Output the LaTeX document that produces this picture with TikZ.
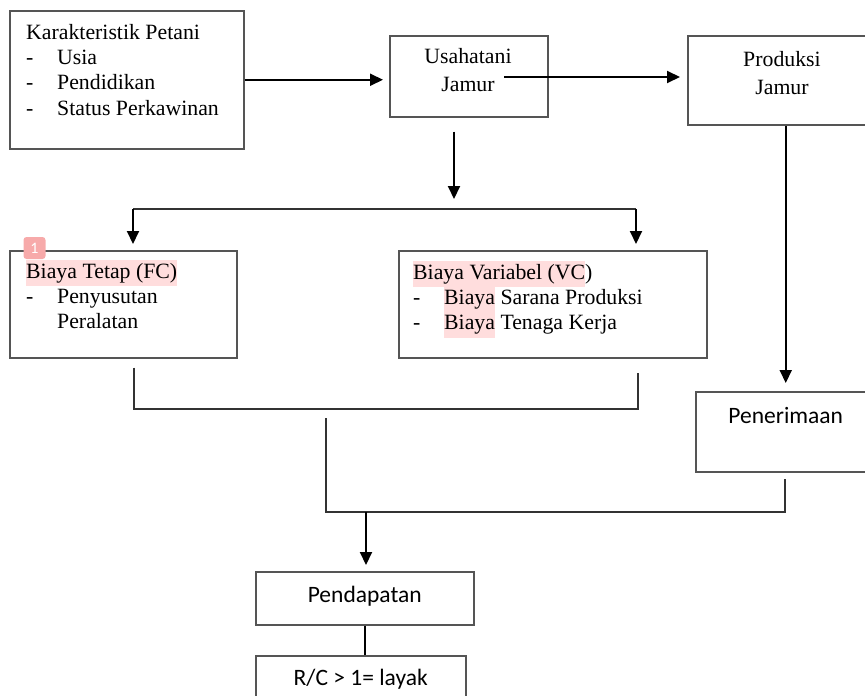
\documentclass[tikz,border=0pt]{standalone}
\usepackage{fontspec}
\setmainfont{Liberation Serif}
\newfontfamily\calfont{Carlito}
\usetikzlibrary{arrows.meta,calc}
\definecolor{hlpink}{RGB}{255,221,221}
\definecolor{notepink}{RGB}{247,170,170}
\definecolor{boxgray}{RGB}{85,85,85}
\newcommand{\tnr}{\fontsize{21.8}{25.4}\selectfont}
\newcommand{\tnrc}{\fontsize{21.8}{28}\selectfont}
\newcommand{\clb}{\calfont\fontsize{23.5}{28}\selectfont}
\newcommand{\itm}[1]{\makebox[31pt][l]{-}#1}
\newcommand{\hilite}[1]{{\setlength{\fboxsep}{0pt}\colorbox{hlpink}{\strut #1}}}

\begin{document}
\begin{tikzpicture}[x=1pt, y=-1pt,
  box/.style={draw=boxgray, line width=1.5pt, inner sep=0pt, anchor=north west},
  txt/.style={inner sep=0pt, font=\tnr, align=left, anchor=north west},
  arr/.style={line width=2pt, -{Triangle[length=13pt,width=12pt]}},
  line/.style={draw=black!80, line width=1.5pt}]
\useasboundingbox (0,0) rectangle (865,696); % page
\node[box, minimum width=234pt, minimum height=138pt] (kp) at (9,10) {}; % farmer box
\node[txt] (kptx) at (26,21.2) {\strut Karakteristik Petani\\ \itm{Usia}\\ \itm{Pendidikan}\\ \itm{Status Perkawinan}};
\node[box, minimum width=158pt, minimum height=81pt] (uj) at (389,35) {}; % usahatani box
\node[txt, font=\tnrc, align=center, anchor=north] (ujtx) at (468,43.4) {\strut Usahatani\\ Jamur};
\node[box, minimum width=196pt, minimum height=89pt] (pj) at (687,35) {}; % produksi box, runs off page
\node[txt, font=\tnrc, align=center, anchor=north] (pjtx) at (782,46.4) {\strut Produksi\\ Jamur};
\node[box, minimum width=227pt, minimum height=107pt] (bt) at (9,250) {}; % fixed cost
\node[txt] (bttx) at (26,260.2) {\hilite{Biaya Tetap (FC)}\\ \itm{Penyusutan}\\ \hspace*{31pt}Peralatan};
\node[box, minimum width=308pt, minimum height=107pt] (bv) at (398,250) {}; % variable cost
\node[txt] (bvtx) at (413,261.2) {\hilite{Biaya Variabel (VC}\strut)\\ \itm{\hilite{Biaya} Sarana Produksi}\\ \itm{\hilite{Biaya} Tenaga Kerja}};
\node[fill=notepink, rounded corners=3pt, minimum size=22pt, inner sep=0pt, text=white, font=\calfont\fontsize{16}{16}\selectfont] (note) at (34.5,248) {1}; % comment mark
\node[box, minimum width=180pt, text height=32pt, text depth=48pt, font=\clb] (pn) at (695,391) {Penerimaan}; % revenue
\node[box, minimum width=218pt, text height=30.5pt, text depth=22.5pt, font=\clb] (pd) at (255,571) {Pendapatan}; % income
\node[box, minimum width=210pt, text height=30pt, text depth=30pt, font=\clb] (rc) at (255,655) {R/C > 1= layak}; % feasibility
\draw[arr, shorten >=6pt] (kp.east) -- (kp.east -| uj.west); % into usahatani
\coordinate (ujout) at (504,77);
\draw[arr, shorten >=7pt] (ujout) -- (ujout -| pj.west); % into produksi
\coordinate (split) at (454,209);
\draw[arr, shorten <=14pt, shorten >=10pt] (uj.south -| split) -- (split); % down to costs
\coordinate (barL) at (133,209);
\coordinate (barR) at (636,209);
\draw[line] (barL) -- (barR); % split bar
\draw[arr, shorten >=6pt] (barL) -- (barL |- bt.north);
\draw[arr, shorten >=6pt] (barR) -- (barR |- bv.north);
\draw[arr, shorten >=8pt] (pj.south) -- (pj.south |- pn.north); % into penerimaan
\coordinate (sumL) at (134,409);
\coordinate (sumR) at (638,409);
\draw[line] ($(bt.south -| sumL)+(0,9)$) -- (sumL) -- (sumR) -- ($(bv.south -| sumR)+(0,14)$); % cost bracket
\coordinate (incL) at (326,512);
\coordinate (incR) at (785,512);
\draw[line] ($(sumL -| incL)+(0,9)$) -- (incL) -- (incR) -- ($(pn.south -| incR)+(0,6)$); % income bracket
\coordinate (pdin) at (366,512);
\draw[arr, shorten >=6pt] (pdin) -- (pdin |- pd.north); % into pendapatan
\draw[line, draw=black, line width=2pt] (pd.south) -- (pd.south |- rc.north);
\end{tikzpicture}
\end{document}
